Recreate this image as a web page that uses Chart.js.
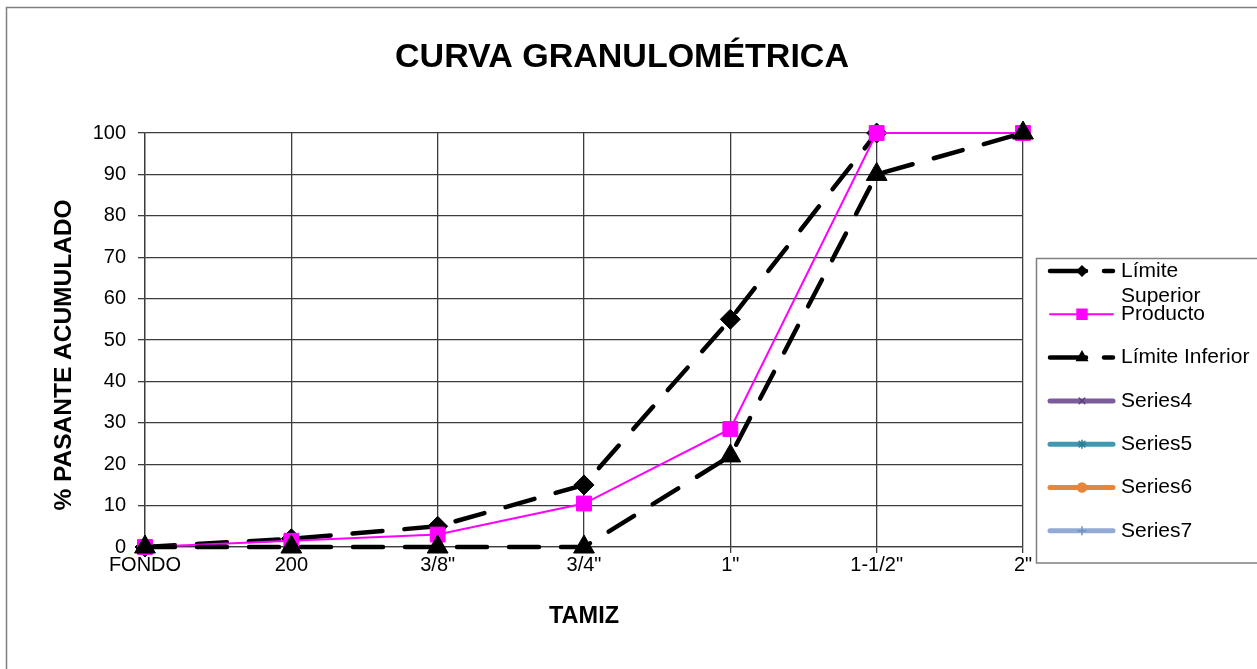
<!DOCTYPE html>
<html lang="es">
<head>
<meta charset="utf-8">
<title>Curva granulométrica</title>
<script src="https://cdn.jsdelivr.net/npm/chart.js@4.4.1/dist/chart.umd.min.js"></script>
<style>
  html, body { margin: 0; padding: 0; background: #fff; }
  canvas { display: block; }
</style>
</head>
<body>
<canvas id="chart" width="1257" height="669"></canvas>
<script>
// datos
const tamices = ['FONDO', '200', '3/8"', '3/4"', '1"', '1-1/2"', '2"'];
const limiteSuperior = [0, 2, 5, 15, 55, 100, null];
const producto = [0, 1.5, 3, 10.5, 28.5, 100, 100];
const limiteInferior = [0, 0, 0, 0, 22, 90, 100];
const serieVacia = [];
const yMin = 0, yMax = 100, yStep = 10;

const FONT = '"Liberation Sans", Arial, sans-serif';
const GRID = '#3c3c3c';
Chart.defaults.font.family = FONT;

// marco, títulos y leyenda estilo Excel
const decor = {
  id: 'decor',
  beforeDraw(chart) {
    const ctx = chart.ctx;
    ctx.save();
    ctx.fillStyle = '#fff';
    ctx.fillRect(0, 0, chart.width, chart.height);
    ctx.strokeStyle = '#7f7f7f';
    ctx.lineWidth = 1.5;
    ctx.strokeRect(6.5, 7.5, 1400, 800);
    ctx.restore();
  },
  afterDraw(chart) {
    const ctx = chart.ctx;
    ctx.save();
    ctx.fillStyle = '#000';
    ctx.textAlign = 'center';
    ctx.textBaseline = 'alphabetic';
    ctx.font = `bold 34px ${FONT}`;
    ctx.fillText('CURVA GRANULOMÉTRICA', 622, 67);
    ctx.translate(71, 355);
    ctx.rotate(-Math.PI / 2);
    ctx.font = `bold 24.5px ${FONT}`;
    ctx.fillText('% PASANTE ACUMULADO', 0, 0);
    ctx.restore();

    // leyenda
    ctx.save();
    ctx.strokeStyle = '#808080';
    ctx.lineWidth = 1.5;
    ctx.strokeRect(1036.5, 258.5, 400, 304.5);
    const y0 = 271, step = 43.3;
    chart.data.datasets.forEach((ds, i) => {
      const y = y0 + i * step;
      ctx.save();
      ctx.strokeStyle = ds.borderColor;
      ctx.lineWidth = ds.borderWidth;
      ctx.lineCap = 'round';
      ctx.setLineDash(ds.borderDash ? [36, 18] : []);
      ctx.beginPath();
      ctx.moveTo(1050, y);
      ctx.lineTo(1113, y);
      ctx.stroke();
      ctx.setLineDash([]);
      ctx.fillStyle = ds.pointBackgroundColor;
      ctx.strokeStyle = ds.pointBorderColor;
      ctx.lineWidth = 1.5;
      Chart.helpers.drawPoint(ctx, { pointStyle: ds.pointStyle, radius: ds.legendRadius, borderWidth: 1.5, rotation: 0 }, 1082, y);
      ctx.restore();

      ctx.fillStyle = '#000';
      ctx.font = `21px ${FONT}`;
      ctx.textAlign = 'left';
      ctx.textBaseline = 'middle';
      const lines = [];
      let cur = '';
      ds.label.split(' ').forEach((w) => {
        const t = cur ? cur + ' ' + w : w;
        if (cur && ctx.measureText(t).width > 132) {
          lines.push(cur);
          cur = w;
        } else cur = t;
      });
      lines.push(cur);
      lines.forEach((ln, k) => ctx.fillText(ln, 1121, y + k * 25));
    });
    ctx.restore();
  }
};

const dashed = [30, 22];

new Chart(document.getElementById('chart'), {
  type: 'line',
  data: {
    labels: tamices,
    datasets: [
      {
        label: 'Límite Superior', data: limiteSuperior, order: 2,
        borderColor: '#000', borderWidth: 4.5, borderDash: dashed, borderCapStyle: 'round',
        pointStyle: 'rectRot', pointRadius: 10, pointBorderWidth: 1,
        pointBackgroundColor: '#000', pointBorderColor: '#000', legendRadius: 5, clip: false
      },
      {
        label: 'Producto', data: producto, order: 1,
        borderColor: '#ff00ff', borderWidth: 2,
        pointStyle: 'rect', pointRadius: 10.5, pointBorderWidth: 1,
        pointBackgroundColor: '#ff00ff', pointBorderColor: '#ff00ff', legendRadius: 7, clip: false
      },
      {
        label: 'Límite Inferior', data: limiteInferior, order: 0,
        borderColor: '#000', borderWidth: 4.5, borderDash: dashed, borderCapStyle: 'round',
        pointStyle: 'triangle', pointRadius: 12, pointBorderWidth: 1,
        pointBackgroundColor: '#000', pointBorderColor: '#000', legendRadius: 6, clip: false
      },
      {
        label: 'Series4', data: serieVacia, borderColor: '#7a5c9a', borderWidth: 5,
        pointStyle: 'crossRot', pointBackgroundColor: '#7a5c9a', pointBorderColor: '#5b4080', legendRadius: 4
      },
      {
        label: 'Series5', data: serieVacia, borderColor: '#4099b0', borderWidth: 5,
        pointStyle: 'star', pointBackgroundColor: '#4099b0', pointBorderColor: '#2f7f96', legendRadius: 4
      },
      {
        label: 'Series6', data: serieVacia, borderColor: '#e5863c', borderWidth: 5,
        pointStyle: 'circle', pointBackgroundColor: '#e5863c', pointBorderColor: '#e5863c', legendRadius: 4.5
      },
      {
        label: 'Series7', data: serieVacia, borderColor: '#92aad4', borderWidth: 5,
        pointStyle: 'cross', pointBackgroundColor: '#92aad4', pointBorderColor: '#7090c0', legendRadius: 4
      }
    ]
  },
  options: {
    responsive: false,
    animation: false,
    layout: { padding: { top: 133, right: 234, left: 0, bottom: 0 } },
    elements: { line: { tension: 0 } },
    plugins: { legend: { display: false }, title: { display: false }, tooltip: { enabled: false } },
    scales: {
      x: {
        offset: false,
        grid: { color: GRID, lineWidth: 1.3, tickLength: 6 },
        border: { color: GRID, width: 1.3 },
        ticks: { color: '#000', font: { size: 20 }, padding: 0, maxRotation: 0, autoSkip: false },
        title: { display: true, text: 'TAMIZ', color: '#000', font: { size: 23.5, weight: 'bold' }, padding: { top: 0, bottom: 38 } },
        afterFit(s) { s.height = 122; }
      },
      y: {
        min: yMin, max: yMax,
        grid: { color: GRID, lineWidth: 1.3, tickLength: 7 },
        border: { color: GRID, width: 1.3 },
        ticks: { stepSize: yStep, color: '#000', font: { size: 20 }, padding: 12 },
        afterFit(s) { s.width = 145; }
      }
    }
  },
  plugins: [decor]
});
</script>
</body>
</html>
